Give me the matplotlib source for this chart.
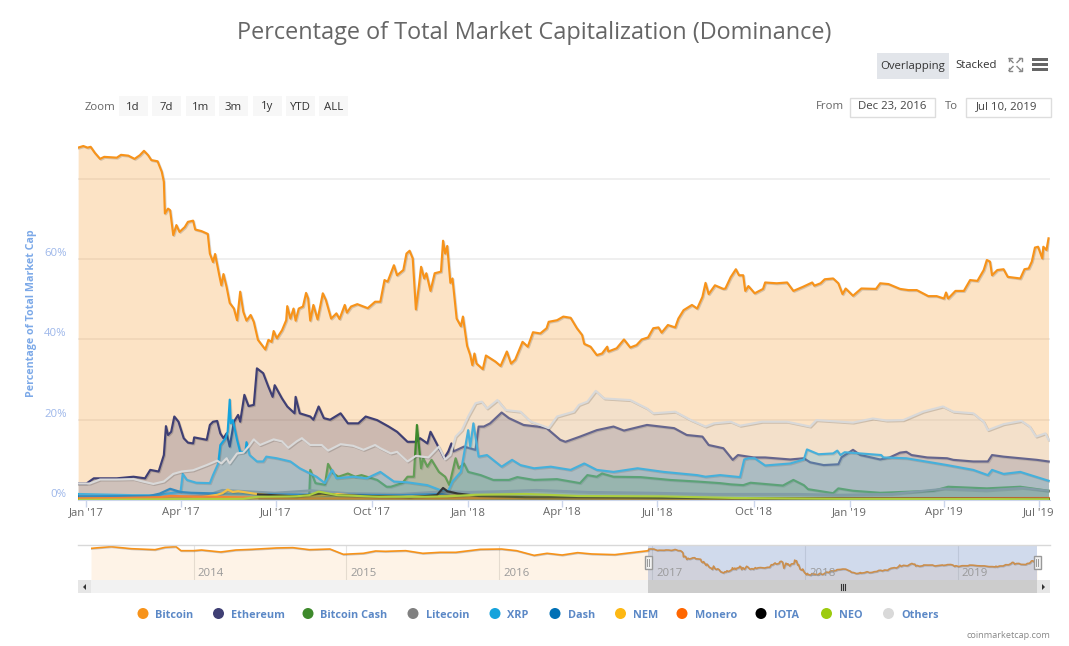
# Percentage of total market cap (dominance), coinmarketcap style
import numpy as np
import pandas as pd
import matplotlib
matplotlib.use('Agg')
import matplotlib.pyplot as plt
import matplotlib.patheffects as pe
from matplotlib.patches import Rectangle, Circle, Polygon

plt.rcParams['font.family'] = ['Open Sans', 'DejaVu Sans']

# days are counted from Jan 1 2017, values are percent
btc_days = [-8, -3, 1, 4, 8, 13, 17, 29, 33, 40, 46, 51, 55, 59, 62, 68, 72, 74, 75, 78, 80, 83, 86, 89, 94, 97, 102, 104, 110, 116, 118, 121, 123, 127, 129, 131, 134, 137, 141, 144, 147, 150, 153, 157, 160, 164, 171, 174, 177, 179, 182, 187, 191, 192, 195, 198, 200, 203, 207, 210, 212, 214, 217, 221, 226, 229, 234, 239, 242, 247, 249, 253, 259, 265, 269, 276, 281, 285, 288, 294, 297, 303, 306, 309, 312, 315, 318, 320, 323, 325, 329, 333, 339, 341, 343, 345, 348, 350, 354, 358, 360, 364, 367, 369, 371, 373, 379, 382, 391, 396, 402, 406, 410, 417, 422, 427, 434, 440, 442, 450, 456, 463, 469, 474, 476, 482, 488, 493, 498, 499, 507, 514, 520, 526, 531, 537, 542, 547, 550, 556, 563, 566, 571, 579, 584, 589, 592, 595, 601, 609, 611, 616, 621, 624, 628, 630, 633, 639, 647, 649, 660, 670, 676, 685, 694, 696, 702, 706, 714, 719, 723, 726, 733, 741, 755, 759, 767, 778, 786, 794, 805, 813, 820, 822, 824, 831, 839, 845, 852, 858, 861, 864, 866, 871, 877, 881, 893, 897, 901, 904, 907, 910, 914, 915, 918, 920]
btc_vals = [87.8, 88.2, 87.8, 88, 86.5, 85, 85.5, 85.3, 86, 85.8, 85, 85.9, 87, 85.9, 84.7, 84.4, 81.8, 79.3, 71.4, 72.6, 72.2, 66, 68.5, 66.8, 68, 69.3, 69.6, 67.4, 67, 66.3, 61.4, 59.3, 61.3, 56, 53.5, 56.3, 53.1, 49.1, 47.7, 44.8, 51.9, 46.9, 44.7, 46.1, 44.4, 39.9, 37.5, 39.9, 39.4, 42.1, 40.3, 42.3, 44.8, 48.3, 45.2, 47.7, 44.7, 47.7, 48.2, 51.6, 50.2, 44.7, 48.6, 45, 51.5, 49.8, 45.2, 46.5, 45.1, 48.6, 46.7, 48.2, 48.8, 48.2, 47.8, 49.4, 49.4, 54.8, 54.4, 58.5, 56, 57.3, 61.4, 62.1, 60.2, 47.5, 53.6, 58.1, 55.2, 56.5, 52.1, 56.5, 56.9, 64.6, 61.4, 63.3, 54.1, 55.2, 45.2, 43.3, 45.7, 38.4, 36.1, 33.6, 36.5, 34, 32.6, 36, 34.5, 33.4, 37, 34, 35, 39.4, 38.2, 41.8, 41.5, 42.8, 44.4, 44.8, 45.7, 45.4, 42.8, 41.1, 38.9, 38.2, 36.1, 36.5, 38.2, 37, 37.8, 40, 38, 38.6, 40, 40.5, 42.8, 43, 41.7, 43.6, 43, 45.2, 47.3, 48.6, 47.7, 50.6, 54.1, 51.3, 53.5, 52.6, 52.7, 55.5, 57.5, 56, 56, 52.1, 53.3, 51.5, 52.6, 54.2, 54, 54.2, 52.1, 53.1, 54.2, 53.4, 54, 55, 55.2, 54, 51.3, 52.7, 50.9, 52.7, 52.6, 54, 53.8, 52.6, 52.3, 52.3, 50.8, 50.8, 50.2, 51.7, 50.2, 52.1, 52.1, 54.8, 54.6, 57.3, 59.8, 59.4, 56, 57.3, 57.5, 55.6, 55.2, 57.5, 57.7, 59.4, 62.9, 63.1, 60.2, 63.1, 62.3, 65.2]

eth_days = [-8, 0, 7, 29, 45, 56, 61, 69, 74, 76, 78, 81, 84, 88, 93, 97, 102, 103, 115, 118, 121, 125, 128, 131, 134, 137, 141, 145, 147, 151, 155, 160, 163, 169, 174, 178, 180, 187, 192, 199, 200, 204, 214, 217, 222, 227, 233, 243, 250, 260, 267, 278, 289, 297, 307, 315, 319, 326, 329, 334, 342, 346, 349, 351, 361, 372, 375, 380, 386, 397, 404, 418, 431, 440, 453, 458, 472, 488, 504, 514, 536, 562, 574, 589, 595, 609, 618, 623, 638, 649, 673, 686, 692, 705, 719, 722, 733, 740, 759, 768, 778, 784, 789, 804, 823, 829, 848, 862, 866, 877, 893, 909, 920]
eth_vals = [4.1, 4.1, 5.4, 5.4, 5.8, 5.4, 7.5, 7.1, 11.2, 18.4, 16.2, 17, 20.8, 19.5, 15.4, 14.3, 14.1, 15.6, 15, 18.7, 19.5, 19.7, 16.6, 15.4, 16.6, 13.3, 19.5, 21.2, 19.5, 26.2, 23.4, 23.7, 32.8, 31.6, 28.2, 25.7, 28.6, 25.3, 23.3, 21.6, 25.7, 21.6, 20.8, 20, 23.3, 20.4, 20, 21.6, 19.1, 19.1, 20.8, 19.9, 18.3, 17, 14.5, 14.5, 15.4, 14.1, 17, 14.5, 10.4, 12.1, 14.1, 12.1, 13.3, 12.5, 18.3, 18.3, 19.1, 21.8, 20.4, 18.7, 18.3, 17.9, 15, 14.5, 15.8, 17.4, 18.3, 17.3, 18.7, 17.9, 16.2, 15.8, 13.7, 12.9, 10, 11.2, 10.6, 10.6, 10.1, 10.4, 9.4, 8.7, 8.9, 10.6, 12.5, 11.2, 10.1, 10.6, 11.8, 12, 11.2, 10.6, 10.4, 10, 9.6, 9.6, 11.2, 10.8, 10.4, 10, 9.6]

others_days = [-8, 3, 13, 29, 45, 54, 64, 74, 83, 91, 102, 115, 125, 129, 134, 137, 144, 150, 155, 160, 166, 179, 187, 193, 201, 206, 214, 225, 231, 243, 255, 265, 276, 281, 291, 297, 307, 315, 327, 337, 343, 348, 353, 359, 365, 372, 378, 383, 393, 401, 415, 425, 434, 442, 450, 466, 471, 479, 487, 495, 520, 536, 542, 563, 578, 592, 600, 616, 625, 646, 670, 692, 698, 733, 752, 765, 781, 800, 819, 829, 848, 858, 862, 877, 894, 902, 908, 917, 920]
others_vals = [4.1, 4.1, 5.1, 5.1, 5.2, 4.6, 4, 4.6, 6.5, 7.1, 7.4, 8.7, 9.8, 9.1, 10.4, 9.1, 11.6, 11.8, 13.3, 15.1, 13.7, 15.1, 14.6, 13, 14.6, 15.4, 13.7, 13.7, 12.3, 13.9, 13.5, 12.5, 13.7, 12.9, 11.6, 12, 9.6, 11, 10.6, 13.3, 10.1, 11.2, 15.8, 17.4, 20.8, 24.1, 24.5, 22.8, 24.9, 22.4, 22, 19.5, 18.7, 17.9, 20.8, 22, 23.7, 24.5, 27.2, 25.3, 24.9, 22.8, 21.6, 22, 19.9, 18.3, 19.1, 19.5, 18.5, 19.5, 19.5, 18.3, 19.9, 19.3, 20.3, 19.8, 19.9, 22, 23.3, 22, 21.6, 19.5, 17.4, 18.9, 19.7, 18.3, 15.8, 16.6, 15]

xrp_days = [-8, 45, 67, 90, 92, 96, 105, 118, 121, 126, 128, 133, 135, 137, 138, 140, 144, 147, 152, 153, 156, 163, 169, 172, 182, 195, 204, 220, 228, 235, 239, 255, 268, 281, 294, 307, 326, 338, 346, 350, 358, 365, 367, 370, 375, 383, 397, 407, 415, 428, 444, 463, 476, 488, 504, 527, 552, 584, 592, 606, 625, 629, 633, 639, 649, 673, 686, 689, 700, 714, 718, 721, 725, 760, 762, 784, 823, 848, 862, 866, 877, 893, 920]
xrp_vals = [1.5, 1.2, 1.2, 2.1, 6.5, 5, 4.3, 4.2, 6.2, 9.1, 13.7, 15.4, 17, 25, 19.1, 19.9, 15, 12, 12, 14.4, 11.2, 9.6, 9.6, 10.8, 10.4, 9.6, 7.9, 5.8, 4.2, 7.5, 5.4, 5.8, 5.4, 7, 4.6, 4.4, 3.7, 2.5, 2.3, 4.6, 7, 17.4, 13.3, 19.1, 10.8, 11.2, 8.3, 10, 8.7, 7.9, 8.3, 7.5, 9.1, 7.5, 7, 7.9, 7, 6.2, 5.8, 6.2, 5.7, 10.1, 10.4, 10.4, 8.6, 9.1, 10.1, 12.6, 11.4, 11.6, 12.3, 11.2, 11.9, 11.2, 10.6, 10.4, 8.7, 7.5, 6.2, 7.5, 6.5, 7, 4.8]

bch_days = [213, 214, 219, 228, 231, 236, 241, 250, 257, 263, 278, 287, 291, 302, 307, 313, 316, 318, 320, 322, 326, 330, 337, 343, 347, 353, 356, 361, 365, 377, 389, 404, 412, 428, 450, 472, 479, 488, 493, 504, 530, 558, 584, 606, 616, 628, 635, 666, 676, 686, 690, 714, 719, 733, 759, 810, 824, 861, 893, 920]
bch_vals = [1.2, 7.5, 4.2, 3.8, 9, 6.6, 5.8, 6.6, 5.8, 6.2, 5, 3.3, 3.3, 4.2, 5.8, 5.8, 18.7, 13.3, 7.9, 10.4, 8.3, 10, 7, 5.8, 3.7, 10.4, 7.9, 9.1, 7, 6.2, 5, 5, 5.7, 5, 5.2, 4.2, 6.2, 5.8, 6.6, 5.8, 5.7, 5, 4.6, 4.2, 3.9, 3.7, 4.3, 3.6, 5, 3.7, 2.7, 1.7, 2.9, 2.3, 1.8, 2.3, 3.3, 2.9, 3.3, 2.3]

ltc_days = [-8, 60, 90, 115, 130, 145, 180, 215, 250, 300, 345, 365, 400, 430, 480, 540, 600, 680, 720, 770, 820, 860, 895, 920]
ltc_vals = [0.9, 0.6, 0.7, 1.2, 2.5, 2.3, 1.8, 2.4, 1.7, 1.5, 2.2, 2, 2.2, 2.5, 2, 1.8, 1.5, 1.5, 1.3, 1.5, 2.8, 2.4, 3, 2.3]

dash_days = [-8, 60, 70, 80, 90, 100, 130, 180, 250, 300, 340, 350, 400, 600, 920]
dash_vals = [0.9, 1, 1.6, 2.8, 2, 1.8, 1.6, 1.4, 1.3, 1.2, 1.5, 0.9, 0.6, 0.3, 0.2]

nem_days = [-8, 100, 115, 125, 130, 135, 140, 145, 160, 180, 205, 230, 240, 260, 300, 340, 360, 370, 420, 500, 920]
nem_vals = [0.3, 0.4, 0.9, 1.3, 1.7, 2.6, 2, 2.2, 1.6, 1.1, 0.9, 1.3, 1.5, 1, 0.8, 1, 1.2, 0.9, 0.7, 0.4, 0.1]

xmr_days = [-8, 30, 70, 80, 140, 164, 200, 300, 400, 600, 920]
xmr_vals = [0.4, 0.5, 0.7, 1, 0.7, 0.6, 0.4, 0.4, 0.5, 0.4, 0.5]

iota_days = [164, 200, 225, 240, 270, 310, 335, 341, 345, 355, 375, 420, 520, 640, 920]
iota_vals = [1.4, 0.9, 1.6, 1.2, 1, 0.7, 1.2, 3, 2.2, 1.6, 1, 0.7, 0.6, 0.4, 0.3]

neo_days = [-8, 150, 164, 200, 213, 222, 240, 280, 320, 345, 372, 420, 470, 550, 620, 720, 920]
neo_vals = [0.05, 0.3, 0.8, 0.9, 1.2, 2.1, 1.2, 0.8, 0.8, 0.9, 1.3, 1.5, 1, 0.9, 0.5, 0.3, 0.2]

# bitcoin before the main window, only visible in the navigator
nav_dates = ['2013-05-01', '2013-06-18', '2013-08-05', '2013-10-01', '2013-10-25', '2013-11-20', '2013-12-02', '2014-01-01', '2014-01-20', '2014-03-07', '2014-04-12', '2014-05-21', '2014-07-18', '2014-08-26', '2014-10-05', '2014-11-23', '2014-12-25', '2015-02-11', '2015-03-12', '2015-04-05', '2015-05-23', '2015-07-03', '2015-08-13', '2015-09-20', '2015-11-17', '2016-01-07', '2016-02-12', '2016-03-25', '2016-04-25', '2016-05-31', '2016-07-07', '2016-08-10', '2016-10-04', '2016-11-14', '2016-12-23']
nav_vals = [89.4, 93, 88.7, 86.6, 91.6, 93, 84.5, 84.5, 85.9, 81.7, 85.9, 87.3, 90.2, 90.9, 86.6, 88, 76.8, 78.9, 83.8, 83.1, 84.5, 78.9, 81, 81, 87.3, 88, 84.5, 74.6, 78.9, 75.3, 80.3, 77.5, 76.1, 80.3, 84.5]

names = ['Bitcoin', 'Ethereum', 'Bitcoin Cash', 'Litecoin', 'XRP', 'Dash', 'NEM', 'Monero', 'IOTA', 'NEO', 'Others']
colors = ['#F7931A', '#3F3F74', '#3E8A2C', '#808080', '#16A3DC', '#0070B5', '#FDB813', '#FF6600', '#000000', '#9DCB0E', '#D9D9D9']
all_days = [btc_days, eth_days, bch_days, ltc_days, xrp_days, dash_days, nem_days, xmr_days, iota_days, neo_days, others_days]
all_vals = [btc_vals, eth_vals, bch_vals, ltc_vals, xrp_vals, dash_vals, nem_vals, xmr_vals, iota_vals, neo_vals, others_vals]

tick_dates = ['2017-01-01', '2017-04-01', '2017-07-01', '2017-10-01', '2018-01-01', '2018-04-01', '2018-07-01', '2018-10-01', '2019-01-01', '2019-04-01', '2019-07-01']
tick_labels = ["Jan '17", "Apr '17", "Jul '17", "Oct '17", "Jan '18", "Apr '18", "Jul '18", "Oct '18", "Jan '19", "Apr '19", "Jul '19"]
year_dates = ['2014-01-01', '2015-01-01', '2016-01-01', '2017-01-01', '2018-01-01', '2019-01-01']
year_labels = ['2014', '2015', '2016', '2017', '2018', '2019']
percent_ticks = [0, 20, 40, 60, 80]
percent_labels = ['0%', '20%', '40%', '60%', '']
zoom_labels = ['1d', '7d', '1m', '3m', '1y', 'YTD', 'ALL']

W, H = 1069, 646
START = pd.Timestamp('2017-01-01')


def to_dates(days):
    return START + pd.to_timedelta(np.array(days, dtype=float), unit='D')


def px_axes(left, top, right, bottom):
    return fig.add_axes([left / W, 1 - bottom / H, (right - left) / W, (bottom - top) / H])


fig = plt.figure(figsize=(W / 100, H / 100), dpi=100)

# main chart, every later series covers the lines of the earlier ones with its fill
ax = px_axes(78, 140, 1050, 500)
for i in range(len(names)):
    d = to_dates(all_days[i])
    ax.fill_between(d, all_vals[i], 0, color=colors[i], alpha=0.25, lw=0, zorder=2 + i * 0.02)
    ax.plot(d, all_vals[i], color=colors[i], lw=1.55, solid_joinstyle='round', zorder=2.01 + i * 0.02,
            path_effects=[pe.SimpleLineShadow(offset=(0.7, -0.7), alpha=0.15), pe.Normal()])

ax.set_xlim(to_dates([-8.1])[0], to_dates([921.4])[0])
ax.set_ylim(0, 89.7)
ax.set_yticks(percent_ticks)
ax.set_yticklabels(percent_labels, color='#9DB7EA', fontsize=8.2, va='bottom')
ax.set_xticks(pd.to_datetime(tick_dates))
ax.set_xticklabels(tick_labels, color='#666666', fontsize=8.2)
ax.tick_params(axis='x', length=5, width=1, color='#CCD6EB', pad=0)
ax.tick_params(axis='y', length=0, pad=8)
ax.grid(axis='y', color='#EFEFEF', lw=1.4, zorder=0)
ax.set_axisbelow(True)
for s in ['top', 'right', 'left']:
    ax.spines[s].set_visible(False)
ax.spines['bottom'].set_color('#CCD6EB')

# navigator
nav = px_axes(91, 545, 1037, 580)
nav_x = pd.to_datetime(nav_dates).append(to_dates(btc_days))
nav_y = nav_vals + btc_vals
nav.fill_between(nav_x, nav_y, 0, color='#F7931A', alpha=0.1, lw=0)
nav.plot(nav_x, nav_y, color='#F7931A', lw=1.2, zorder=3,
         path_effects=[pe.SimpleLineShadow(offset=(0.5, -0.5), alpha=0.2), pe.Normal()])
nav.set_xlim(pd.Timestamp('2013-05-01'), pd.Timestamp('2019-07-10'))
nav.set_ylim(22.5, 96.5)
nav.set_yticks([])
nav.set_xticks(pd.to_datetime(year_dates))
nav.set_xticklabels([])
nav.tick_params(axis='x', length=0)
nav.grid(axis='x', color='#E4E4E4', lw=0.8)
nav.set_axisbelow(True)
for s in nav.spines.values():
    s.set_visible(False)
nav.patch.set_alpha(0)
nav.axvspan(pd.Timestamp('2016-12-23'), pd.Timestamp('2019-07-10'), color='#6685C2', alpha=0.3, lw=0, zorder=4)
for date, label in zip(pd.to_datetime(year_dates), year_labels):
    nav.annotate(label, (date, 22.5), xytext=(3, 3), textcoords='offset points', color='#999999', fontsize=8.2, zorder=5)

# page furniture in pixel coordinates
ui = fig.add_axes([0, 0, 1, 1], zorder=10)
ui.set_xlim(0, W)
ui.set_ylim(H, 0)
ui.axis('off')
ui.patch.set_alpha(0)


def box(x0, y0, x1, y1, fc, ec='none', lw=0, z=1):
    ui.add_patch(Rectangle((x0, y0), x1 - x0, y1 - y0, fc=fc, ec=ec, lw=lw, zorder=z))


def label(x, y, s, ha='left', size=8.2, color='#666666', weight='normal'):
    ui.text(x, y, s, ha=ha, va='baseline', fontsize=size, color=color, fontweight=weight)


ui.text(534.5, 39, 'Percentage of Total Market Capitalization (Dominance)', ha='center', va='baseline',
        fontsize=16.95, color='#666666')
ui.text(32, 313, 'Percentage of Total Market Cap', rotation=90, ha='center', va='center', fontsize=7.7,
        fontweight='bold', color='#7CA9E8')

# Overlapping / Stacked toggles and icons
box(877, 53, 949, 79, '#E2E5EA')
label(913, 68.5, 'Overlapping', ha='center', color='#333333')
label(976.5, 68, 'Stacked', ha='center', color='#333333')
for sx, sy in [(-1, -1), (1, -1), (-1, 1), (1, 1)]:
    ui.plot([1015 + sx * 2, 1015 + sx * 6], [64.5 + sy * 2, 64.5 + sy * 6], color='#888888', lw=1)
    ui.plot([1015 + sx * 3.5, 1015 + sx * 6.5, 1015 + sx * 6.5], [64.5 + sy * 6.5, 64.5 + sy * 6.5, 64.5 + sy * 3.5],
            color='#888888', lw=1)
for yb in [59, 64, 69]:
    box(1032, yb - 1.5, 1048, yb + 1.5, '#666666')

# range selector
label(85, 109.5, 'Zoom')
zoom_x = [119, 152, 186, 219, 253, 286, 319]
for x0, name in zip(zoom_x, zoom_labels):
    box(x0, 96, x0 + 28.5, 116, '#F7F7F7')
    label(x0 + 14.2, 109.5, name, ha='center', color='#333333')
label(816, 109, 'From')
box(849.5, 97.5, 934.5, 116.5, 'white', ec='#DDDDDD', lw=1)
label(892, 109, 'Dec 23, 2016', ha='center', color='#444444')
label(945, 109, 'To')
box(965.5, 97.5, 1050.5, 116.5, 'white', ec='#DDDDDD', lw=1)
label(1007, 109, 'Jul 10, 2019', ha='center', color='#444444')

# navigator frame, handles and scrollbar
ui.plot([78, 1050], [544.5, 544.5], color='#D8D8D8', lw=1)
box(78, 580, 1050, 593, '#F2F2F2')
box(648, 580, 1037, 593, '#CCCCCC')
box(78, 580, 91, 593, '#E6E6E6')
box(1037, 580, 1050, 593, '#E6E6E6')
ui.add_patch(Polygon([[86, 584], [86, 590], [83, 587]], fc='#333333', zorder=2))
ui.add_patch(Polygon([[1042, 584], [1042, 590], [1045, 587]], fc='#333333', zorder=2))
for gx in [841, 843, 845]:
    ui.plot([gx, gx], [584, 590], color='#333333', lw=0.8, zorder=2)
for hx in [648, 1037]:
    box(hx - 3.5, 556, hx + 3.5, 568.5, '#F2F2F2', ec='#999999', lw=1, z=3)
    for gx in [hx - 1, hx + 1]:
        ui.plot([gx, gx], [559, 566], color='#999999', lw=0.7, zorder=4)

# legend
legend_dots = [143, 218.5, 308, 413, 495, 555, 620.5, 682, 761, 826.5, 888.5]
legend_text = [155.5, 231, 320.5, 426, 507, 568, 633, 694.5, 774, 839.5, 901]
for i in range(len(names)):
    ui.add_patch(Circle((legend_dots[i], 613.5), 5.5, fc=colors[i], ec='none'))
    label(legend_text[i], 617.5, names[i], size=7.8, color='#5B88C6', weight='bold')

label(1050, 638, 'coinmarketcap.com', ha='right', size=6.6, color='#888888')

fig.savefig('out.png', dpi=100)
